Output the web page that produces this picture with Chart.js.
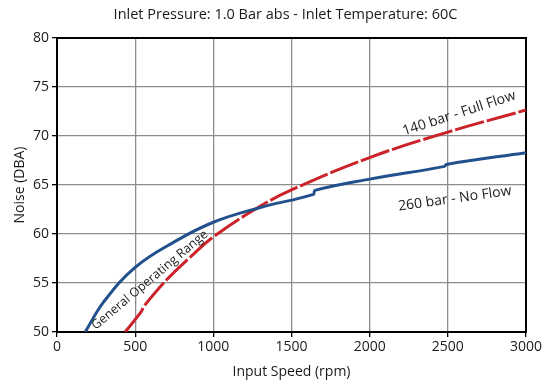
<!DOCTYPE html>
<html>
<head>
<meta charset="utf-8">
<script src="https://cdn.jsdelivr.net/npm/chart.js@4/dist/chart.umd.min.js"></script>
<style>
  body { margin: 0; background: #fff; }
  #wrap { width: 544px; height: 384px; }
</style>
</head>
<body>
<div id="wrap"><canvas id="noiseChart" width="544" height="384"></canvas></div>
<script>
// values
const rpm260 = [180, 300, 500, 750, 1000, 1300, 1640, 1650, 2000, 2480, 2490, 3000];
const noise260 = [50, 53.1, 56.6, 59.2, 61.2, 62.7, 64.05, 64.45, 65.6, 66.9, 67.1, 68.3];
const rpm140 = [436, 540, 555, 700, 850, 1000, 1275, 1500, 2000, 2500, 3000];
const noise140 = [50, 52.1, 52.6, 55.3, 57.6, 59.7, 62.6, 64.5, 67.8, 70.4, 72.65];
const xTicks = [0, 500, 1000, 1500, 2000, 2500, 3000];
const yTicks = [50, 55, 60, 65, 70, 75, 80];

const titleText = 'Inlet Pressure: 1.0 Bar abs - Inlet Temperature: 60C';
// curve labels: [text, rpm, dBA, angle in degrees]
const curveLabels = [
  ['140 bar - Full Flow', 2572, 72.3, -18],
  ['260 bar - No Flow', 2545, 63.6, -8],
  ['General Operating Range', 594, 55.3, -40]
];

const fontFam = '"Open Sans", "DejaVu Sans", sans-serif';

function toPoints(xs, ys) {
  return xs.map((x, i) => ({ x: x, y: ys[i] }));
}

const extras = {
  id: 'extras',
  beforeDatasetsDraw(chart) {
    const { ctx, chartArea } = chart;
    ctx.save();
    ctx.strokeStyle = '#000';
    ctx.lineWidth = 2;
    ctx.strokeRect(chartArea.left, chartArea.top, chartArea.right - chartArea.left, chartArea.bottom - chartArea.top);
    ctx.restore();
  },
  afterDraw(chart) {
    const { ctx, chartArea, scales } = chart;
    ctx.save();
    ctx.fillStyle = '#1a1a1a';
    ctx.font = '14.5px ' + fontFam;
    ctx.textAlign = 'center';
    ctx.textBaseline = 'middle';
    ctx.fillText(titleText, (chartArea.left + chartArea.right) / 2 - 6, 15);
    curveLabels.forEach(function (l) {
      const px = scales.x.getPixelForValue(l[1]);
      const py = scales.y.getPixelForValue(l[2]);
      ctx.save();
      ctx.translate(px, py);
      ctx.rotate(l[3] * Math.PI / 180);
      ctx.font = (l[0].length > 20 ? '12.5px ' : '14px ') + fontFam;
      ctx.fillText(l[0], 0, 0);
      ctx.restore();
    });
    ctx.restore();
  }
};

new Chart(document.getElementById('noiseChart'), {
  type: 'line',
  data: {
    datasets: [{
      label: '260 bar - No Flow',
      data: toPoints(rpm260, noise260),
      borderColor: '#22508c',
      borderWidth: 3,
      pointRadius: 0,
      tension: 0.4,
      fill: false
    }, {
      label: '140 bar - Full Flow',
      data: toPoints(rpm140, noise140),
      borderColor: '#cc2229',
      borderWidth: 3,
      borderDash: [30, 3],
      pointRadius: 0,
      tension: 0.4,
      fill: false
    }]
  },
  options: {
    responsive: false,
    animation: false,
    layout: { padding: { top: 38, right: 17, left: 0, bottom: 0 } },
    plugins: {
      legend: { display: false },
      tooltip: { enabled: false }
    },
    scales: {
      x: {
        type: 'linear',
        min: 0,
        max: 3000,
        afterBuildTicks(scale) { scale.ticks = xTicks.map(v => ({ value: v })); },
        afterFit(scale) { scale.height = 52; },
        ticks: { color: '#1a1a1a', font: { size: 14, family: fontFam }, padding: 2, maxRotation: 0, callback: v => String(v) },
        grid: { color: '#8c8c8c', lineWidth: 1.3, tickColor: '#000', tickLength: 5 },
        border: { color: '#000', width: 2 },
        title: { display: true, text: 'Input Speed (rpm)', color: '#1a1a1a', font: { size: 14, family: fontFam }, padding: { top: 2, bottom: 4 } }
      },
      y: {
        min: 50,
        max: 80,
        afterBuildTicks(scale) { scale.ticks = yTicks.map(v => ({ value: v })); },
        afterFit(scale) { scale.width = 57; },
        ticks: { color: '#1a1a1a', font: { size: 14, family: fontFam }, padding: 3, callback: v => String(v) },
        grid: { color: '#8c8c8c', lineWidth: 1.3, tickColor: '#000', tickLength: 5 },
        border: { color: '#000', width: 2 },
        title: { display: true, text: 'Noise (DBA)', color: '#1a1a1a', font: { size: 14, family: fontFam }, padding: { top: 12, bottom: 0 } }
      }
    }
  },
  plugins: [extras]
});
</script>
</body>
</html>
